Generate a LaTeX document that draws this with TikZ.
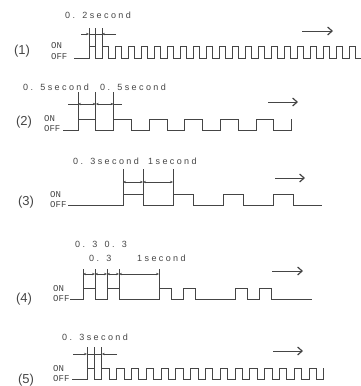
\documentclass[tikz,border=0pt]{standalone}
\usepackage{fontspec}
\setmainfont{Liberation Sans}
\newfontfamily\onofffont{Liberation Mono}
\def\lsp#1{\lsploop#1\relax}
\def\lsploop#1{\ifx#1\relax\else#1\hspace{2.4pt}\expandafter\lsploop\fi}
\usetikzlibrary{arrows.meta}
\definecolor{ink}{HTML}{454545}
\begin{document}
\begin{tikzpicture}[x=1pt,y=-1pt,
  sig/.style={draw=ink, line width=0.9pt, line join=miter},
  mk/.style={draw=ink, line width=0.7pt},
  dimarr/.style={draw=ink, line width=0.6pt, -{Stealth[length=3pt,width=2.4pt]}},
  dimboth/.style={draw=ink, line width=0.6pt, {Stealth[length=3pt,width=2.4pt]}-{Stealth[length=3pt,width=2.4pt]}},
  bigarr/.style={draw=ink, line width=1pt, -{Straight Barb[length=4.5pt,width=8pt,line width=1.2pt]}},
  numlbl/.style={text=ink, inner sep=0pt, font=\fontsize{13}{13}\selectfont},
  onoff/.style={text=ink, inner sep=0pt, anchor=west, font=\onofffont\fontsize{9}{9}\selectfont},
  lbl/.style={text=ink, inner sep=0pt, anchor=west, font=\fontsize{9}{9}\selectfont}]
\clip (0,0) rectangle (361,386);
\useasboundingbox (0,0) rectangle (361,386);

% ---------- Row 1 ----------
\node[numlbl] (n1) at (22,51) {(1)};
\node[onoff] (on1) at (51,46) {ON};
\node[onoff] (off1) at (51,57) {OFF};
\node[lbl] (t1) at (65,15) {\lsp{0.~2second}};
\draw[sig] (74,58) -- (89,58)
  \foreach \i in {1,...,22} {-- ++(0,-12) -- ++(6.5,0) -- ++(0,12) -- ++(6.5,0)};
\foreach \x in {89,95.5,102} \draw[mk] (\x,28) -- (\x,58);
\draw[mk] (89,34) -- (102,34);
\draw[dimarr] (81,34) -- (89,34);
\draw[dimarr] (116,34) -- (102,34);
\coordinate (a1s) at (302,31); \coordinate (a1e) at (333,31);
\draw[bigarr] (a1s) -- (a1e);

% ---------- Row 2 ----------
\node[numlbl] (n2) at (24,122) {(2)};
\node[onoff] (on2) at (44,119) {ON};
\node[onoff] (off2) at (44,129) {OFF};
\node[lbl] (t2a) at (23,87) {\lsp{0.~5second}};
\node[lbl] (t2b) at (100,87) {\lsp{0.~5second}};
\draw[sig] (63,130) -- (78,130)
  \foreach \i in {1,...,6} {-- ++(0,-11) -- ++(17.8,0) -- ++(0,11) -- ++(17.8,0)} -- ++(0,-11);
\foreach \x in {78,95.8,113.6} \draw[mk] (\x,92) -- (\x,130);
\draw[mk] (68,104) -- (78,104);
\draw[dimboth] (78,104) -- (95.8,104);
\draw[dimboth] (95.8,104) -- (113.6,104);
\draw[mk] (113.6,104) -- (122,104);
\coordinate (a2s) at (268,102); \coordinate (a2e) at (298,102);
\draw[bigarr] (a2s) -- (a2e);

% ---------- Row 3 ----------
\node[numlbl] (n3) at (26,202) {(3)};
\node[onoff] (on3) at (50,195) {ON};
\node[onoff] (off3) at (50,205) {OFF};
\node[lbl] (t3a) at (73,161) {\lsp{0.~3second}};
\node[lbl] (t3b) at (148,161) {\lsp{1second}};
\draw[sig] (68,205) -- (123,205) -- (123,194) -- (143,194) -- (143,205) -- (173,205)
  -- (173,194) -- (193,194) -- (193,205) -- (223,205) -- (223,194) -- (243,194)
  -- (243,205) -- (273,205) -- (273,194) -- (293,194) -- (293,205) -- (322,205);
\foreach \x in {123,143,173} \draw[mk] (\x,169) -- (\x,205);
\draw[dimboth] (123,182) -- (143,182);
\draw[dimboth] (143,182) -- (173,182);
\coordinate (a3s) at (275,178); \coordinate (a3e) at (305,178);
\draw[bigarr] (a3s) -- (a3e);

% ---------- Row 4 ----------
\node[numlbl] (n4) at (24,299) {(4)};
\node[onoff] (on4) at (53,289) {ON};
\node[onoff] (off4) at (53,299) {OFF};
\node[lbl] (t4a) at (75,244) {\lsp{0.~3~0.~3}};
\node[lbl] (t4b) at (89,258) {\lsp{0.~3}};
\node[lbl] (t4c) at (137,258) {\lsp{1second}};
\draw[sig] (70,299) -- (83,299) -- (83,288) -- (95,288) -- (95,299) -- (107,299)
  -- (107,288) -- (119,288) -- (119,299) -- (159,299) -- (159,288) -- (171,288)
  -- (171,299) -- (183,299) -- (183,288) -- (195,288) -- (195,299) -- (235,299)
  -- (235,288) -- (247,288) -- (247,299) -- (259,299) -- (259,288) -- (271,288)
  -- (271,299) -- (312,299);
\foreach \x in {83,95,107,119,159} \draw[mk] (\x,269) -- (\x,299);
\draw[dimboth] (83,274) -- (95,274);
\draw[dimboth] (95,274) -- (107,274);
\draw[dimboth] (107,274) -- (119,274);
\draw[dimboth] (119,274) -- (159,274);
\coordinate (a4s) at (272,271); \coordinate (a4e) at (303,271);
\draw[bigarr] (a4s) -- (a4e);

% ---------- Row 5 ----------
\node[numlbl] (n5) at (26,380) {(5)};
\node[onoff] (on5) at (53,369) {ON};
\node[onoff] (off5) at (53,379) {OFF};
\node[lbl] (t5) at (62,337) {\lsp{0.~3second}};
\draw[sig] (72,379) -- (87,379)
  \foreach \i in {1,...,16} {-- ++(0,-11) -- ++(7.4,0) -- ++(0,11) -- ++(7.4,0)} -- ++(0,-11);
\foreach \x in {87,94.4,101.8} \draw[mk] (\x,347) -- (\x,379);
\draw[mk] (87,354) -- (101.8,354);
\draw[dimarr] (73,354) -- (87,354);
\draw[dimarr] (117,354) -- (101.8,354);
\coordinate (a5s) at (273,351); \coordinate (a5e) at (303,351);
\draw[bigarr] (a5s) -- (a5e);
\end{tikzpicture}
\end{document}
